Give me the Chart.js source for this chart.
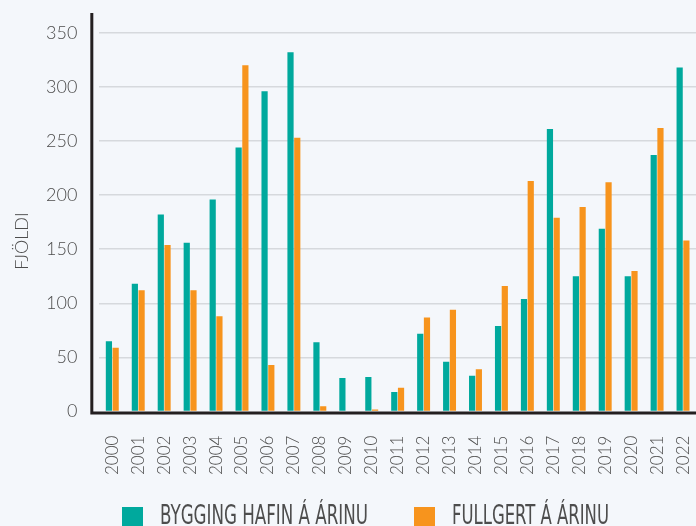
<!DOCTYPE html>
<html lang="is">
<head>
    <meta charset="UTF-8">
    <title>Fjöldi íbúða</title>
    <script src="https://cdn.jsdelivr.net/npm/chart.js"></script>
    <style>
        html, body { margin: 0; padding: 0; background: #f4f7fb; overflow: hidden; }
        #wrap { width: 696px; height: 526px; }
    </style>
</head>
<body>
    <div id="wrap"><canvas id="chart"></canvas></div>
    <script>
        const years = ['2000', '2001', '2002', '2003', '2004', '2005', '2006', '2007', '2008', '2009', '2010', '2011',
                       '2012', '2013', '2014', '2015', '2016', '2017', '2018', '2019', '2020', '2021', '2022'];
        const started = [65, 118, 182, 156, 196, 244, 296, 332, 64, 31, 32, 18,
                         72, 46, 33, 79, 104, 261, 125, 169, 125, 237, 318];
        const finished = [59, 112, 154, 112, 88, 320, 43, 253, 5, 0, 2, 22,
                          87, 94, 39, 116, 213, 179, 189, 212, 130, 262, 158];
        const seriesNames = ['BYGGING HAFIN Á ÁRINU', 'FULLGERT Á ÁRINU'];
        const seriesColors = ['#00a99d', '#f7941d'];
        const yMax = 350;
        const yStep = 50;
        const yTitle = 'FJÖLDI';

        const textColor = '#4d4d4d';
        const fontName = 'Lato, "Open Sans", sans-serif';

        // axis lines, y title and legend are drawn by hand
        const decorations = {
            id: 'decorations',
            afterDatasetsDraw(chart) {
                const ctx = chart.ctx;
                const area = chart.chartArea;
                const axisX = area.left - 7.5;
                ctx.save();
                ctx.strokeStyle = '#231f20';
                ctx.lineWidth = 3;
                ctx.beginPath();
                ctx.moveTo(axisX, 13);
                ctx.lineTo(axisX, area.bottom + 1.5);
                ctx.lineTo(area.right, area.bottom + 1.5);
                ctx.stroke();

                // y title
                ctx.fillStyle = textColor;
                ctx.font = '300 18px ' + fontName;
                ctx.textAlign = 'center';
                ctx.textBaseline = 'middle';
                ctx.translate(22, 241);
                ctx.rotate(-Math.PI / 2);
                ctx.fillText(yTitle, 0, 0);
                ctx.restore();

                // legend
                ctx.save();
                const boxTop = chart.height - 19;
                const boxX = [122, 414];
                const textW = [208, 157];
                ctx.font = '300 26px "Liberation Sans Narrow", "DejaVu Sans Condensed", sans-serif';
                ctx.textBaseline = 'top';
                ctx.textAlign = 'left';
                chart.data.datasets.forEach((ds, i) => {
                    ctx.fillStyle = ds.backgroundColor;
                    ctx.fillRect(boxX[i], boxTop, 21, 21);
                    ctx.fillStyle = textColor;
                    ctx.fillText(ds.label, boxX[i] + 38, boxTop - 3, textW[i]);
                });
                ctx.restore();
            }
        };

        new Chart(document.getElementById('chart'), {
            type: 'bar',
            data: {
                labels: years,
                datasets: [
                    { label: seriesNames[0], data: started, backgroundColor: seriesColors[0] },
                    { label: seriesNames[1], data: finished, backgroundColor: seriesColors[1] }
                ]
            },
            options: {
                responsive: true,
                maintainAspectRatio: false,
                animation: false,
                categoryPercentage: 0.52,
                barPercentage: 0.92,
                layout: { padding: { top: 21, left: 24, right: 0, bottom: 27 } },
                plugins: {
                    legend: { display: false },
                    tooltip: { enabled: false }
                },
                scales: {
                    x: {
                        grid: { display: false, drawTicks: false },
                        border: { display: false },
                        afterFit(scale) {
                            // bars run right up to the canvas edge
                            scale.paddingRight = 0;
                        },
                        ticks: {
                            minRotation: 90,
                            maxRotation: 90,
                            padding: 24,
                            color: textColor,
                            font: { family: fontName, size: 17, weight: 300 }
                        }
                    },
                    y: {
                        min: 0,
                        max: yMax,
                        grid: {
                            drawTicks: false,
                            color: (c) => c.tick.value === 0 ? 'rgba(0,0,0,0)' : '#d6d9dd',
                            lineWidth: 1.5
                        },
                        border: { display: false },
                        ticks: {
                            stepSize: yStep,
                            padding: 22,
                            color: textColor,
                            font: { family: fontName, size: 18, weight: 300 }
                        }
                    }
                }
            },
            plugins: [decorations]
        });
    </script>
</body>
</html>
